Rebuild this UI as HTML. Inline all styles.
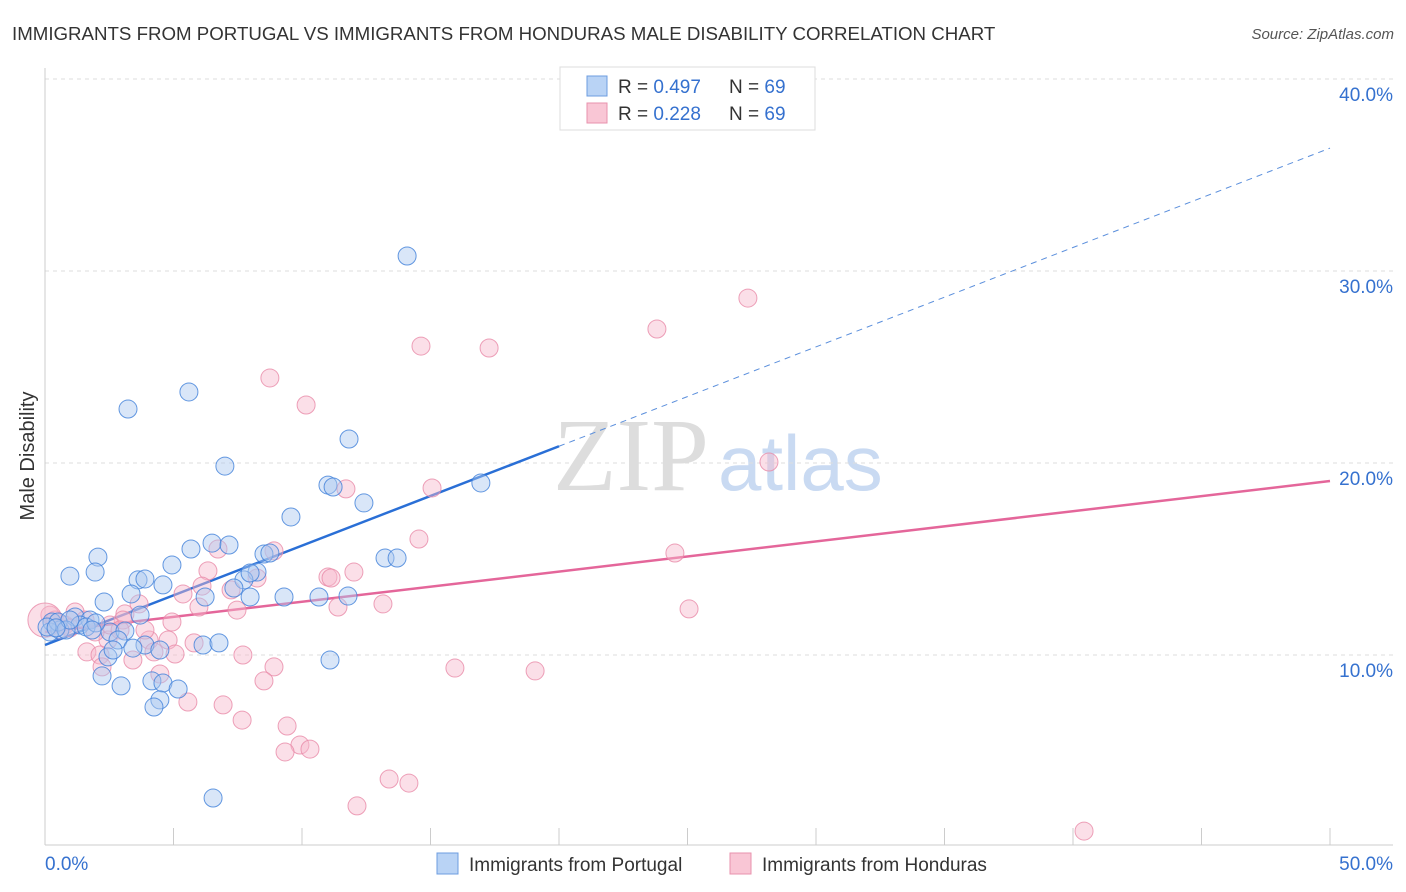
<!DOCTYPE html>
<html><head><meta charset="utf-8"><style>
body{margin:0;background:#fff;font-family:"Liberation Sans",sans-serif}
svg{display:block}
</style></head><body>
<svg id="chart" width="1406" height="892">
<text x="12" y="40" font-size="18.7" fill="#333">IMMIGRANTS FROM PORTUGAL VS IMMIGRANTS FROM HONDURAS MALE DISABILITY CORRELATION CHART</text>
<text x="1394" y="39" font-size="15" fill="#555" font-style="italic" text-anchor="end">Source: ZipAtlas.com</text>
<text x="34" y="456" font-size="20" fill="#333" text-anchor="middle" transform="rotate(-90 34 456)">Male Disability</text>
<g><text x="553" y="490" font-size="104" font-family="Liberation Serif,serif" fill="#ddd">ZIP</text><text x="718" y="490" font-size="78" fill="#c9daf2">atlas</text></g>
<g id="grid"></g><g id="axes"></g><g id="lines"></g><g id="pts"></g>
<g>
<rect x="560" y="67" width="255" height="63" fill="#fff" stroke="#ddd"/>
<rect x="587" y="76" width="20" height="20" fill="#b9d3f5" stroke="#6d9de0"/>
<rect x="587" y="103" width="20" height="20" fill="#f9c6d5" stroke="#e892ad"/>
<text x="618" y="93" font-size="19" fill="#333">R = <tspan fill="#3571cf">0.497</tspan></text>
<text x="729" y="93" font-size="19" fill="#333">N = <tspan fill="#3571cf">69</tspan></text>
<text x="618" y="120" font-size="19" fill="#333">R = <tspan fill="#3571cf">0.228</tspan></text>
<text x="729" y="120" font-size="19" fill="#333">N = <tspan fill="#3571cf">69</tspan></text>
</g>
<g>
<rect x="437" y="853" width="21" height="21" fill="#b9d3f5" stroke="#6d9de0"/>
<text x="469" y="871" font-size="19" fill="#333">Immigrants from Portugal</text>
<rect x="730" y="853" width="21" height="21" fill="#f9c6d5" stroke="#e892ad"/>
<text x="762" y="871" font-size="19" fill="#333">Immigrants from Honduras</text>
</g>
</svg>
<script>
const yTicks=[10,20,30,40];
const yTickLabels=["10.0%","20.0%","30.0%","40.0%"];
const xTickVals=[0,5,10,15,20,25,30,35,40,45,50];
const portugalX=[14.09,3.23,5.60,7.00,11.83,11.01,11.21,16.96,12.41,9.57,2.06,5.68,6.50,7.16,4.94,0.97,1.95,3.62,3.89,4.59,8.52,8.75,13.23,13.70,8.25,7.74,7.35,3.35,2.30,3.70,6.23,7.98,9.30,10.66,11.79,0.27,0.58,1.17,1.75,2.53,3.11,2.84,3.89,4.47,6.15,6.77,2.45,2.22,2.96,4.16,4.59,5.18,4.47,4.24,11.09,6.54,0.19,1.36,0.51,1.60,1.98,0.08,0.82,0.97,3.42,2.65,0.43,1.83,7.98];
const portugalY=[30.78,22.81,23.70,19.84,21.25,18.85,18.75,18.96,17.92,17.19,15.10,15.52,15.83,15.73,14.69,14.11,14.32,13.91,13.96,13.65,15.26,15.31,15.05,15.05,14.32,13.91,13.49,13.18,12.76,12.08,13.02,13.02,13.02,13.02,13.07,11.72,11.30,11.98,11.82,11.20,11.25,10.78,10.52,10.26,10.52,10.63,9.90,8.91,8.39,8.65,8.54,8.23,7.66,7.29,9.74,2.55,11.20,11.56,11.72,11.46,11.67,11.46,11.30,11.82,10.36,10.26,11.41,11.30,14.27];
const hondurasX=[27.35,23.81,14.63,17.28,8.75,10.16,28.17,15.06,11.71,14.55,24.51,8.91,6.73,11.01,12.02,11.13,6.34,8.25,6.11,7.24,5.37,13.15,25.06,5.99,7.47,11.40,3.11,3.66,4.94,3.04,4.79,5.80,4.05,2.45,1.63,2.14,3.42,4.24,5.06,7.70,2.22,4.47,8.91,15.95,19.07,8.52,5.56,6.93,7.67,9.42,9.92,9.34,10.31,13.39,14.16,12.14,40.43,0.19,0.39,0.78,1.17,0.58,1.56,1.95,0,2.53,2.92,3.89,0.97];
const hondurasY=[28.59,26.98,26.09,25.99,24.43,23.02,20.05,18.70,18.65,16.04,15.31,15.42,15.52,14.06,14.32,14.01,14.38,14.01,13.59,13.39,13.18,12.66,12.40,12.50,12.34,12.50,12.14,12.66,11.72,11.82,10.78,10.63,10.78,10.78,10.16,10.00,9.74,10.16,10.05,10.00,9.38,9.01,9.38,9.32,9.17,8.65,7.55,7.40,6.61,6.30,5.31,4.95,5.10,3.54,3.33,2.14,0.83,12.08,11.82,11.56,12.24,11.30,11.82,11.20,11.82,11.56,11.30,11.30,11.41];
const hondurasSize=hondurasX.map((v,i)=>i===64?1.9:1);
const trendPortugal=[10.52,36.4]; const trendPortugalSolidEnd=20;
const trendHonduras=[11.2,19.06];
const NS="http://www.w3.org/2000/svg";
const X=v=>45+v*25.7, Y=v=>847-v*19.2;
function mk(t,a,p){const e=document.createElementNS(NS,t);for(const k in a)e.setAttribute(k,a[k]);p.appendChild(e);return e;}
const grid=document.getElementById('grid'),axes=document.getElementById('axes'),lines=document.getElementById('lines'),pts=document.getElementById('pts');
yTicks.forEach((t,i)=>{
 const g=mk('line',{x1:45,x2:1393,y1:Y(t),y2:Y(t),stroke:'#ddd','stroke-dasharray':'4,4'},grid);
 
 
 const l=mk('text',{x:1393,y:Y(t)+22,'font-size':19,fill:'#3571cf','text-anchor':'end'},axes);l.textContent=yTickLabels[i];
 
 
});
const ax=mk('line',{x1:45,x2:1393,y1:845,y2:845,stroke:'#ccc'},axes);


const ay=mk('line',{x1:45,x2:45,y1:68,y2:845,stroke:'#ccc'},axes);


xTickVals.forEach(t=>{const tk=mk('line',{x1:X(t),x2:X(t),y1:828,y2:845,stroke:'#ccc'},axes);
 
 });
[["0.0%",45,'start'],["50.0%",1393,'end']].forEach(a=>{const l=mk('text',{x:a[1],y:870,'font-size':19,fill:'#3571cf','text-anchor':a[2]},axes);l.textContent=a[0];
 
 });
function pt(xs,ys,fill,stroke,name,sz){xs.forEach((x,i)=>{const c=mk('circle',{cx:X(x),cy:Y(ys[i]),r:9*(sz?sz[i]:1),fill:fill,'fill-opacity':0.45,stroke:stroke,'stroke-width':1,'stroke-opacity':0.8},pts);
 
 });}
pt(hondurasX,hondurasY,'#f7b8cb','#e88aa8','point-honduras',hondurasSize);
pt(portugalX,portugalY,'#aac8f0','#3f7fd9','point-portugal');
const sl=(trendPortugal[1]-trendPortugal[0])/50;
const l1=mk('line',{x1:X(0),y1:Y(trendPortugal[0]),x2:X(trendPortugalSolidEnd),y2:Y(trendPortugal[0]+sl*trendPortugalSolidEnd),stroke:'#2a6fd6','stroke-width':2.5},lines);


const l2=mk('line',{x1:X(trendPortugalSolidEnd),y1:Y(trendPortugal[0]+sl*trendPortugalSolidEnd),x2:X(50),y2:Y(trendPortugal[1]),stroke:'#5b8fdc','stroke-width':1,'stroke-dasharray':'6,5'},lines);


const l3=mk('line',{x1:X(0),y1:Y(trendHonduras[0]),x2:X(50),y2:Y(trendHonduras[1]),stroke:'#e4669a','stroke-width':2.5},lines);


</script>
</body></html>
